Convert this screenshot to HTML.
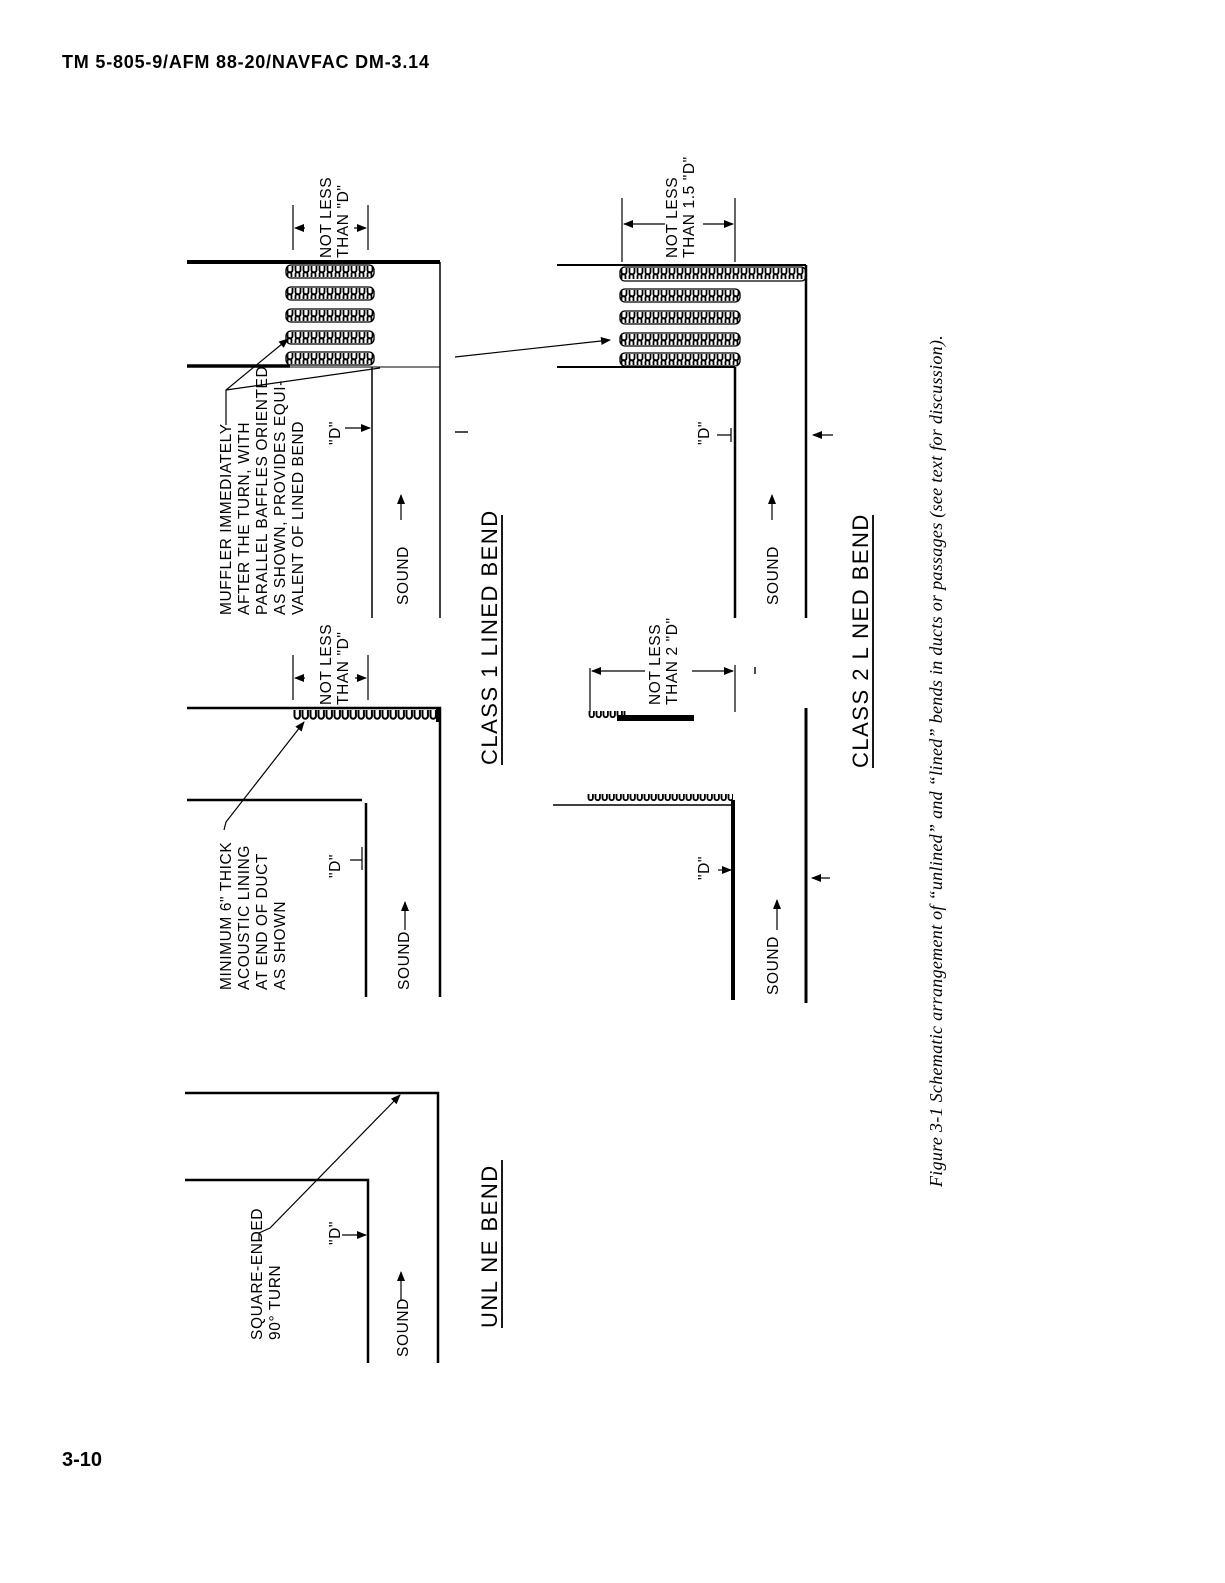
<!DOCTYPE html>
<html><head><meta charset="utf-8"><style>
html,body{margin:0;padding:0;background:#fff}
svg{display:block}
text{font-family:"Liberation Sans",sans-serif;fill:#000}
.l{font-size:15.5px;letter-spacing:0.6px}
.t{font-size:22px;letter-spacing:1.5px}
</style></head><body>
<svg width="1225" height="1583" viewBox="0 0 1225 1583" xmlns="http://www.w3.org/2000/svg">
<defs>
<pattern id="lin" x="0" y="0" width="8" height="40" patternUnits="userSpaceOnUse">
<path d="M1.5,0 v6 a2.7,2.7 0 1 0 5.4,0 v-6" fill="none" stroke="#000" stroke-width="2"/>
</pattern>
<pattern id="baf" x="0" y="0" width="8" height="40" patternUnits="userSpaceOnUse">
<path d="M1.5,1 v4 a2.5,2.5 0 1 0 5,0 v-4 M5.5,12 v-3 a2,2 0 1 0 -4,0 v3" fill="none" stroke="#000" stroke-width="1.8"/>
</pattern>
<pattern id="lin2" x="0" y="0" width="7" height="40" patternUnits="userSpaceOnUse">
<path d="M1.5,0 v4 a2.2,2.2 0 1 0 4.4,0 v-4" fill="none" stroke="#000" stroke-width="1.8"/>
</pattern>
<marker id="ar" markerWidth="10" markerHeight="8" refX="9" refY="4" orient="auto" markerUnits="userSpaceOnUse">
<path d="M0,0 L10,4 L0,8 z" fill="#000"/></marker>
</defs>

<text x="62" y="68" style="font-size:18px;font-weight:bold;letter-spacing:0.8px">TM 5-805-9/AFM 88-20/NAVFAC DM-3.14</text>
<text x="62" y="1466" style="font-size:20px;font-weight:bold">3-10</text>

<text transform="translate(942,1187) rotate(-90)" style="font-family:'Liberation Serif',serif;font-style:italic;font-size:18px;letter-spacing:0.3px">Figure 3-1  Schematic arrangement of “unlined” and “lined” bends in ducts or passages (see text for discussion).</text>

<!-- UNLINED -->
<g stroke="#000" fill="none">
<path d="M185,1093 H438 V1363" stroke-width="2.5"/>
<path d="M185,1180 H368 V1363" stroke-width="2.5"/>
<path d="M259,1240 L259,1233 L270,1228 L400,1095" stroke-width="1.2" marker-end="url(#ar)"/>
<path d="M342,1235 H366" stroke-width="1.2" marker-end="url(#ar)"/>
<path d="M401,1300 V1272" stroke-width="1.2" marker-end="url(#ar)"/>
<path d="M502,1328 V1160" stroke-width="1.8"/>
</g>
<text class="l" transform="translate(262,1340) rotate(-90)">SQUARE-ENDED</text>
<text class="l" transform="translate(280,1340) rotate(-90)">90° TURN</text>
<text class="l" transform="translate(340,1245) rotate(-90)">"D"</text>
<text class="l" transform="translate(408,1357) rotate(-90)">SOUND</text>
<text class="t" transform="translate(497,1328) rotate(-90)">UNL NE  BEND</text>

<!-- CLASS 1 left -->
<g stroke="#000" fill="none">
<path d="M187,708 H440 V997" stroke-width="2.5"/>
<path d="M187,800 H362" stroke-width="2.5"/>
<path d="M366,803 V997" stroke-width="2.5"/>
<path d="M293,655 V700 M368,655 V700" stroke-width="1.2"/>
<path d="M305,678 H295" stroke-width="1.2" marker-end="url(#ar)"/>
<path d="M355,678 H366" stroke-width="1.2" marker-end="url(#ar)"/>
<path d="M224,830 L226,822 L304,722" stroke-width="1.2" marker-end="url(#ar)"/>
<path d="M362,847 V870 M350,860 H362" stroke-width="1.2"/>
<path d="M405,930 V902" stroke-width="1.2" marker-end="url(#ar)"/>
<path d="M502,765 V515" stroke-width="1.8"/>
</g>
<g transform="translate(293,710)"><rect width="145" height="12" fill="url(#lin)"/></g>
<rect x="436" y="708" width="4" height="14" fill="#000"/>
<text class="l" transform="translate(331,705) rotate(-90)">NOT LESS</text>
<text class="l" transform="translate(348,705) rotate(-90)">THAN "D"</text>
<text class="l" transform="translate(231,990) rotate(-90)">MINIMUM 6" THICK</text>
<text class="l" transform="translate(249,990) rotate(-90)">ACOUSTIC LINING</text>
<text class="l" transform="translate(267,990) rotate(-90)">AT END OF DUCT</text>
<text class="l" transform="translate(285,990) rotate(-90)">AS SHOWN</text>
<text class="l" transform="translate(340,878) rotate(-90)">"D"</text>
<text class="l" transform="translate(409,990) rotate(-90)">SOUND</text>
<text class="t" transform="translate(497,765) rotate(-90)">CLASS 1 LINED BEND</text>

<!-- CLASS 1 right (muffler) -->
<g stroke="#000" fill="none">
<path d="M187,262 H440" stroke-width="4"/>
<path d="M440,262 V618" stroke-width="1.5"/>
<path d="M187,366 H290" stroke-width="3.5"/>
<path d="M290,367 H440" stroke-width="1"/>
<path d="M372,367 V618" stroke-width="1.5"/>
<path d="M293,205 V250 M368,205 V250" stroke-width="1.2"/>
<path d="M305,228 H295" stroke-width="1.2" marker-end="url(#ar)"/>
<path d="M354,228 H366" stroke-width="1.2" marker-end="url(#ar)"/>
<path d="M226,425 L226,390 L288,339" stroke-width="1.2" marker-end="url(#ar)"/>
<path d="M226,390 L380,368" stroke-width="1.2"/>
<path d="M345,428 H370" stroke-width="1.2" marker-end="url(#ar)"/>
<path d="M455,357 L610,340" stroke-width="1.2" marker-end="url(#ar)"/>
<path d="M455,432 H468" stroke-width="1.4"/>
<path d="M401,520 V495" stroke-width="1.2" marker-end="url(#ar)"/>
</g>
<g fill="url(#baf)" stroke="#000" stroke-width="1.3">
<g transform="translate(286,265)"><rect width="88" height="13" rx="5"/></g>
<g transform="translate(286,287)"><rect width="88" height="13" rx="5"/></g>
<g transform="translate(286,309)"><rect width="88" height="13" rx="5"/></g>
<g transform="translate(286,331)"><rect width="88" height="13" rx="5"/></g>
<g transform="translate(286,352)"><rect width="88" height="13" rx="5"/></g>
</g>
<text class="l" transform="translate(331,258) rotate(-90)">NOT LESS</text>
<text class="l" transform="translate(348,258) rotate(-90)">THAN "D"</text>
<text class="l" transform="translate(231,615) rotate(-90)">MUFFLER IMMEDIATELY</text>
<text class="l" transform="translate(249,615) rotate(-90)">AFTER THE TURN, WITH</text>
<text class="l" transform="translate(267,615) rotate(-90)">PARALLEL BAFFLES ORIENTED</text>
<text class="l" transform="translate(285,615) rotate(-90)">AS SHOWN, PROVIDES EQUI-</text>
<text class="l" transform="translate(303,615) rotate(-90)">VALENT OF LINED BEND</text>
<text class="l" transform="translate(340,445) rotate(-90)">"D"</text>
<text class="l" transform="translate(408,605) rotate(-90)">SOUND</text>

<!-- CLASS 2 left -->
<g stroke="#000" fill="none">
<path d="M553,805 H733" stroke-width="1.5"/>
<path d="M733,800 V1000" stroke-width="4"/>
<path d="M806,708 V1003" stroke-width="3"/>
<path d="M590,668 V712 M735,665 V712" stroke-width="1.2"/>
<path d="M645,671 H592" stroke-width="1.2" marker-end="url(#ar)"/>
<path d="M692,671 H733" stroke-width="1.2" marker-end="url(#ar)"/>
<path d="M755,667 V674" stroke-width="1.4"/>
<path d="M718,870 H731" stroke-width="1.2" marker-end="url(#ar)"/>
<path d="M830,878 H812" stroke-width="1.2" marker-end="url(#ar)"/>
<path d="M777,930 V900" stroke-width="1.2" marker-end="url(#ar)"/>
<path d="M873,768 V515" stroke-width="1.8"/>
</g>
<g transform="translate(587,794)"><rect width="146" height="10" fill="url(#lin2)"/></g>
<g transform="translate(588,711)"><rect width="40" height="8" fill="url(#lin2)"/></g>
<rect x="617" y="715" width="77" height="6" fill="#000"/>
<text class="l" transform="translate(660,705) rotate(-90)">NOT LESS</text>
<text class="l" transform="translate(677,705) rotate(-90)">THAN 2 "D"</text>
<text class="l" transform="translate(709,880) rotate(-90)">"D"</text>
<text class="l" transform="translate(778,995) rotate(-90)">SOUND</text>
<text class="t" transform="translate(868,768) rotate(-90)">CLASS 2 L NED BEND</text>

<!-- CLASS 2 right -->
<g stroke="#000" fill="none">
<path d="M557,265 H806" stroke-width="2"/>
<path d="M806,265 V618" stroke-width="2.5"/>
<path d="M557,367 H735" stroke-width="2"/>
<path d="M735,367 V618" stroke-width="2.5"/>
<path d="M622,198 V262 M735,198 V262" stroke-width="1.2"/>
<path d="M665,224 H624" stroke-width="1.2" marker-end="url(#ar)"/>
<path d="M703,224 H733" stroke-width="1.2" marker-end="url(#ar)"/>
<path d="M717,435 H731 M731,428 V442" stroke-width="1.2"/>
<path d="M833,435 H813" stroke-width="1.2" marker-end="url(#ar)"/>
<path d="M772,520 V495" stroke-width="1.2" marker-end="url(#ar)"/>
</g>
<g transform="translate(620,267)"><rect width="186" height="14" fill="url(#baf)" stroke="#000" stroke-width="1.3" rx="5"/></g>
<g fill="url(#baf)" stroke="#000" stroke-width="1.3">
<g transform="translate(620,289)"><rect width="120" height="13" rx="5"/></g>
<g transform="translate(620,311)"><rect width="120" height="13" rx="5"/></g>
<g transform="translate(620,333)"><rect width="120" height="13" rx="5"/></g>
<g transform="translate(620,353)"><rect width="120" height="13" rx="5"/></g>
</g>
<text class="l" transform="translate(677,258) rotate(-90)">NOT LESS</text>
<text class="l" transform="translate(694,258) rotate(-90)">THAN 1.5 "D"</text>
<text class="l" transform="translate(709,445) rotate(-90)">"D"</text>
<text class="l" transform="translate(778,605) rotate(-90)">SOUND</text>
</svg>
</body></html>
